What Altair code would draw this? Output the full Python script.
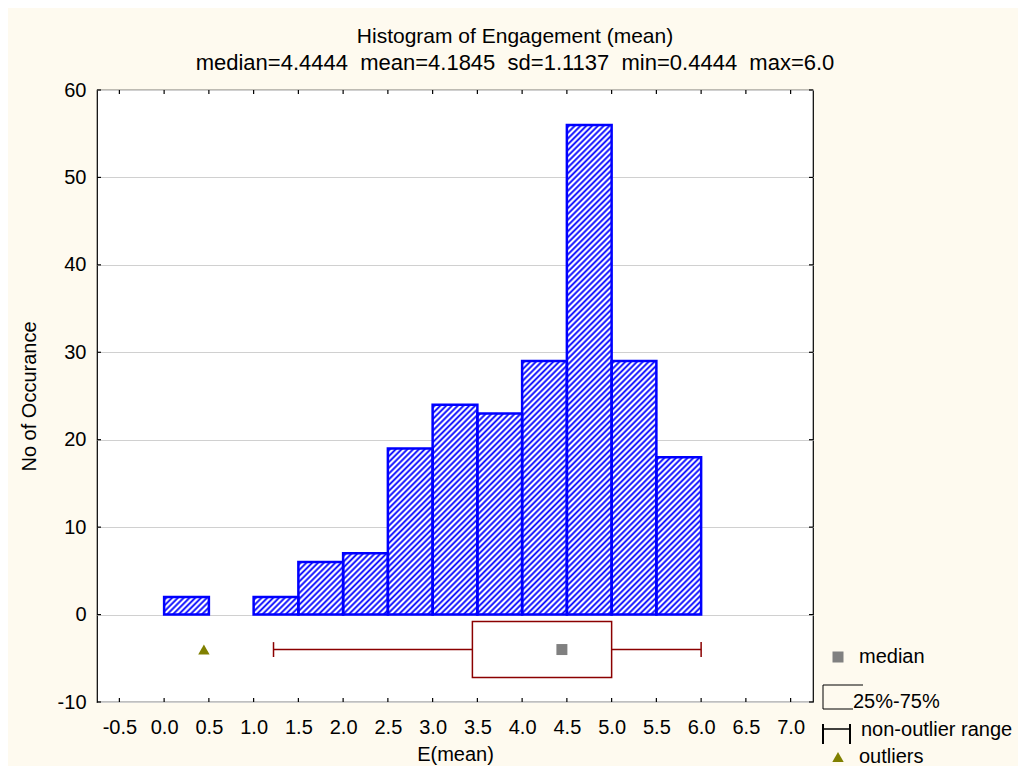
import urllib.parse
import altair as alt
import pandas as pd

# ---------------- data ----------------
bin_start = [0.0, 0.5, 1.0, 1.5, 2.0, 2.5, 3.0, 3.5, 4.0, 4.5, 5.0, 5.5]
bin_end = [0.5, 1.0, 1.5, 2.0, 2.5, 3.0, 3.5, 4.0, 4.5, 5.0, 5.5, 6.0]
counts = [2, 0, 2, 6, 7, 19, 24, 23, 29, 56, 29, 18]

whisker_low = [1.2222]
quartile_1 = [3.4444]
median_val = [4.4444]
quartile_3 = [5.0]
whisker_high = [6.0]
outliers = [0.4444]

x_ticks = [-0.5, 0.0, 0.5, 1.0, 1.5, 2.0, 2.5, 3.0, 3.5, 4.0, 4.5, 5.0, 5.5, 6.0, 6.5, 7.0]
y_ticks = [-10, 0, 10, 20, 30, 40, 50, 60]
legend_labels = ["median", "25%-75%", "non-outlier range", "outliers"]

title_text = "Histogram of Engagement (mean)"
subtitle_text = "median=4.4444\u00a0\u00a0mean=4.1845\u00a0\u00a0sd=1.1137\u00a0\u00a0min=0.4444\u00a0\u00a0max=6.0"

# ---------------- styles ----------------
FONT = "Liberation Sans"
BLUE = "#0000FF"
DARKRED = "#8B0000"
GRAY = "#808080"
OLIVE = "#808000"
BG = "#FEFAEF"

hatch_svg = (
    "<svg xmlns='http://www.w3.org/2000/svg'>"
    "<defs><pattern id='h' patternUnits='userSpaceOnUse' width='4.1' height='4.1' "
    "patternTransform='rotate(45)'>"
    "<rect width='4.1' height='4.1' fill='#ffffff'/>"
    "<line x1='2.05' y1='-1' x2='2.05' y2='6' stroke='#0000ff' stroke-width='1.8'/>"
    "</pattern></defs><rect width='100%' height='100%' fill='url(#h)'/></svg>"
)
hatch_url = "data:image/svg+xml," + urllib.parse.quote(hatch_svg)

hist_df = pd.DataFrame({"start": bin_start, "end": bin_end, "count": counts})
box_df = pd.DataFrame({"lo": whisker_low, "q1": quartile_1, "med": median_val,
                       "q3": quartile_3, "hi": whisker_high})
whisk_df = pd.DataFrame({"a": whisker_low + quartile_3, "b": quartile_1 + whisker_high})
cap_df = pd.DataFrame({"c": whisker_low + whisker_high})
out_df = pd.DataFrame({"o": outliers})
xt_df = pd.DataFrame({"v": x_ticks})
yt_df = pd.DataFrame({"v": y_ticks})
one = pd.DataFrame({"k": [0]})

xs = alt.Scale(domain=[-0.75, 7.25], nice=False, zero=False)
ys = alt.Scale(domain=[-10, 60], nice=False, zero=False)

x_axis = alt.Axis(
    values=x_ticks, format=".1f", ticks=False, domain=False, grid=False,
    labelFont=FONT, labelFontSize=20, labelColor="black", labelPadding=15,
    labelFlush=False, labelOverlap=False,
    title="E(mean)", titleFont=FONT, titleFontSize=20, titleFontWeight="normal",
    titleColor="black", titleY=58, titleBaseline="alphabetic",
)
y_axis = alt.Axis(
    values=y_ticks, format="d", ticks=False, domain=False, grid=True,
    gridColor="#D0D0D0", gridWidth=1.2,
    labelFont=FONT, labelFontSize=20, labelColor="black", labelPadding=11,
    labelFlush=False, labelOverlap=False,
    title="No of Occurance", titleFont=FONT, titleFontSize=20, titleFontWeight="normal",
    titleColor="black", titleX=-68, titleY=306, titleAngle=270,
    titleBaseline="middle", titleAlign="center",
)


def XF(f):
    return alt.X(f, type="quantitative", scale=xs, axis=x_axis)


def YF(f):
    return alt.Y(f, type="quantitative", scale=ys, axis=y_axis)


def XD(v):
    return alt.XDatum(v, type="quantitative", scale=xs, axis=x_axis)


def YD(v):
    return alt.YDatum(v, type="quantitative", scale=ys, axis=y_axis)


bars_base = alt.Chart(hist_df).transform_filter("datum.count > 0")

hatch = bars_base.mark_image(aspect=False).encode(
    x=XF("start"), x2="end:Q", y=YF("count"), y2=alt.datum(0),
    url=alt.value(hatch_url),
)

outline = bars_base.mark_bar(fillOpacity=0, stroke=BLUE, strokeWidth=2.5).encode(
    x=XF("start"), x2="end:Q", y=YF("count"), y2=alt.datum(0),
)

whiskers = alt.Chart(whisk_df).mark_rule(color=DARKRED, strokeWidth=1.5).encode(
    x=XF("a"), x2="b:Q", y=YD(-4),
)
caps = alt.Chart(cap_df).mark_rule(color=DARKRED, strokeWidth=1.5).encode(
    x=XF("c"), y=YD(-3.15), y2=alt.datum(-4.85),
)
box = alt.Chart(box_df).mark_rect(fillOpacity=0, stroke=DARKRED, strokeWidth=1.5).encode(
    x=XF("q1"), x2="q3:Q", y=YD(-0.8), y2=alt.datum(-7.2),
)
med = alt.Chart(box_df).mark_square(size=121, color=GRAY, opacity=1).encode(
    x=XF("med"), y=YD(-4),
)
outl = alt.Chart(out_df).mark_point(shape="triangle-up", size=130, filled=True,
                                    color=OLIVE, opacity=1).encode(
    x=XF("o"), y=YD(-4),
)

# inner ticks on all four sides of the frame
TK = dict(color="black", strokeWidth=1.2)
tick_l = alt.Chart(yt_df).mark_rule(**TK).encode(
    y=YF("v"), x=XD(-0.75), x2=alt.datum(-0.705))
tick_r = alt.Chart(yt_df).mark_rule(**TK).encode(
    y=YF("v"), x=XD(7.25), x2=alt.datum(7.205))
tick_b = alt.Chart(xt_df).mark_rule(**TK).encode(
    x=XF("v"), y=YD(-10), y2=alt.datum(-9.54))
tick_t = alt.Chart(xt_df).mark_rule(**TK).encode(
    x=XF("v"), y=YD(60), y2=alt.datum(59.54))

# ---------------- legend (bottom right) ----------------
LT = dict(font=FONT, fontSize=20, color="black", align="left", baseline="middle")
leg = [
    alt.Chart(one).mark_square(size=121, color=GRAY, opacity=1).encode(
        x=alt.value(741), y=alt.value(567)),
    alt.Chart(one).mark_text(**LT).encode(
        text=alt.value(legend_labels[0]), x=alt.value(762), y=alt.value(567)),
    alt.Chart(one).mark_rule(color="black", strokeWidth=1).encode(
        x=alt.value(726), x2=alt.value(766), y=alt.value(595)),
    alt.Chart(one).mark_rule(color="black", strokeWidth=1).encode(
        x=alt.value(726), y=alt.value(595), y2=alt.value(619)),
    alt.Chart(one).mark_rule(color="black", strokeWidth=1).encode(
        x=alt.value(726), x2=alt.value(756), y=alt.value(619)),
    alt.Chart(one).mark_text(**LT).encode(
        text=alt.value(legend_labels[1]), x=alt.value(756), y=alt.value(612)),
    alt.Chart(one).mark_rule(color="black", strokeWidth=2).encode(
        x=alt.value(726), y=alt.value(634), y2=alt.value(654)),
    alt.Chart(one).mark_rule(color="black", strokeWidth=2).encode(
        x=alt.value(753), y=alt.value(634), y2=alt.value(654)),
    alt.Chart(one).mark_rule(color="black", strokeWidth=1.5).encode(
        x=alt.value(726), x2=alt.value(753), y=alt.value(639)),
    alt.Chart(one).mark_text(**LT).encode(
        text=alt.value(legend_labels[2]), x=alt.value(764), y=alt.value(640)),
    alt.Chart(one).mark_point(shape="triangle-up", size=130, filled=True,
                              color=OLIVE, opacity=1).encode(
        x=alt.value(741), y=alt.value(667)),
    alt.Chart(one).mark_text(**LT).encode(
        text=alt.value(legend_labels[3]), x=alt.value(762), y=alt.value(667)),
]

chart = alt.layer(
    hatch, outline, whiskers, caps, box, med, outl,
    tick_l, tick_r, tick_b, tick_t, *leg,
).properties(
    width=716,
    height=612,
    autosize=alt.AutoSizeParams(type="none"),
    padding={"left": 89, "top": 82, "right": 205, "bottom": 64},
    background=BG,
    title=alt.TitleParams(
        text=title_text, subtitle=subtitle_text,
        anchor="middle", frame="group", dx=60, offset=6,
        font=FONT, fontSize=21, fontWeight="normal", color="black",
        subtitleFont=FONT, subtitleFontSize=22, subtitleColor="black",
        subtitlePadding=6,
    ),
).configure(
    locale=alt.Locale(number=alt.NumberLocale(
        decimal=".", thousands=",", grouping=[3], currency=["", ""], minus="-")),
).configure_view(
    fill="white", stroke="black", strokeWidth=1.2,
)

chart.save("out.html", embed_options={"renderer": "svg", "actions": False})
